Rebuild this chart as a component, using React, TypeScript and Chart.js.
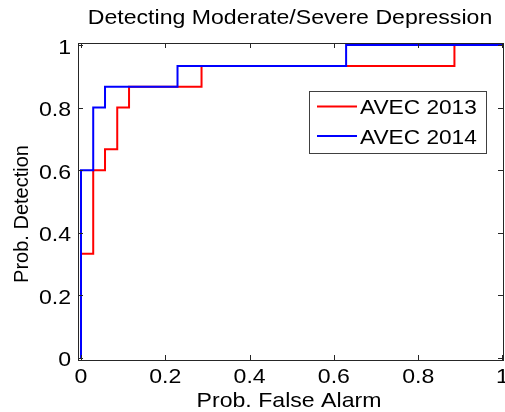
import React, { useEffect, useRef } from "react";
import { Chart, registerables } from "chart.js";

Chart.register(...registerables);

const titleText = "Detecting Moderate/Severe Depression";
const xLabel = "Prob. False Alarm";
const yLabel = "Prob. Detection";

const seriesNames = ["AVEC 2013", "AVEC 2014"];
const seriesColors = ["#ff0000", "#0000ff"];

// AVEC 2013 ROC staircase (false alarm, detection)
const fa2013 = [0, 0, 0.029, 0.029, 0.057, 0.057, 0.086, 0.086, 0.114, 0.114, 0.286, 0.286, 0.886, 0.886, 1];
const pd2013 = [0, 0.333, 0.333, 0.6, 0.6, 0.667, 0.667, 0.8, 0.8, 0.867, 0.867, 0.933, 0.933, 1, 1];

// AVEC 2014 ROC staircase
const fa2014 = [0, 0, 0.029, 0.029, 0.057, 0.057, 0.229, 0.229, 0.629, 0.629, 1];
const pd2014 = [0, 0.6, 0.6, 0.8, 0.8, 0.867, 0.867, 0.933, 0.933, 1, 1];

const xTicks = [0, 0.2, 0.4, 0.6, 0.8, 1];
const yTicks = [0, 0.2, 0.4, 0.6, 0.8, 1];
const xTickLabels = ["0", "0.2", "0.4", "0.6", "0.8", "1"];
const yTickLabels = ["0", "0.2", "0.4", "0.6", "0.8", "1"];

const FAMILY = '"Liberation Sans", Arial, sans-serif';
const STRETCH = 1.1;

function drawText(
  ctx: CanvasRenderingContext2D,
  text: string,
  x: number,
  y: number,
  align: CanvasTextAlign,
  sx: number,
  size = 21
) {
  ctx.save();
  ctx.translate(x, y);
  ctx.scale(sx, 1);
  ctx.font = `${size}px ${FAMILY}`;
  ctx.fillStyle = "#000";
  ctx.textAlign = align;
  ctx.textBaseline = "alphabetic";
  ctx.fillText(text, 0, 0);
  ctx.restore();
}

const matlabPlugin = {
  id: "matlabDecor",
  afterDatasetsDraw(chart: any) {
    const ctx: CanvasRenderingContext2D = chart.ctx;
    const xs = chart.scales.x;
    const ys = chart.scales.y;
    const L = 78, R = 503, T = 43, B = 360;

    ctx.save();
    // box
    ctx.strokeStyle = "#262626";
    ctx.lineWidth = 1;
    ctx.strokeRect(L + 0.5, T + 0.5, R - L, B - T);

    // ticks (inside, all four sides)
    ctx.beginPath();
    xTicks.forEach((t) => {
      const px = Math.round(xs.getPixelForValue(t)) + 0.5;
      ctx.moveTo(px, B);
      ctx.lineTo(px, B - 5);
      ctx.moveTo(px, T + 1);
      ctx.lineTo(px, T + 5);
    });
    yTicks.forEach((t) => {
      const py = Math.round(ys.getPixelForValue(t)) + 0.5;
      ctx.moveTo(L + 1, py);
      ctx.lineTo(L + 5, py);
      ctx.moveTo(R, py);
      ctx.lineTo(R - 5, py);
    });
    ctx.stroke();

    // tick labels
    xTicks.forEach((t, i) => {
      drawText(ctx, xTickLabels[i], xs.getPixelForValue(t), 383, "center", STRETCH);
    });
    yTicks.forEach((t, i) => {
      drawText(ctx, yTickLabels[i], 71, ys.getPixelForValue(t) + 8.5, "right", STRETCH);
    });

    // title and axis labels
    drawText(ctx, titleText, 290, 24, "center", STRETCH);
    drawText(ctx, xLabel, 289, 407, "center", STRETCH);
    ctx.save();
    ctx.translate(28, 214);
    ctx.rotate(-Math.PI / 2);
    drawText(ctx, yLabel, 0, 0, "center", 1, 20);
    ctx.restore();

    // legend
    const lx0 = 309, ly0 = 91, lx1 = 486, ly1 = 153;
    ctx.fillStyle = "#fff";
    ctx.fillRect(lx0, ly0, lx1 - lx0, ly1 - ly0);
    ctx.strokeStyle = "#404040";
    ctx.lineWidth = 1;
    ctx.strokeRect(lx0 + 0.5, ly0 + 0.5, lx1 - lx0, ly1 - ly0);
    const rows = [106.5, 136];
    chart.data.datasets.forEach((ds: any, i: number) => {
      const y = rows[i];
      ctx.strokeStyle = ds.borderColor;
      ctx.lineWidth = 2;
      ctx.beginPath();
      ctx.moveTo(317, y);
      ctx.lineTo(357, y);
      ctx.stroke();
      drawText(ctx, ds.label, 360, y + 7.5, "left", 1.08);
    });
    ctx.restore();
  },
};

export default function App() {
  const ref = useRef<HTMLCanvasElement | null>(null);

  useEffect(() => {
    if (!ref.current) return;
    const chart = new Chart(ref.current, {
      type: "scatter",
      data: {
        datasets: [
          {
            label: seriesNames[0],
            data: fa2013.map((x, i) => ({ x, y: pd2013[i] })),
            borderColor: seriesColors[0],
            backgroundColor: seriesColors[0],
            showLine: true,
            borderWidth: 2,
            pointRadius: 0,
            tension: 0,
            fill: false,
            order: 1,
          },
          {
            label: seriesNames[1],
            data: fa2014.map((x, i) => ({ x, y: pd2014[i] })),
            borderColor: seriesColors[1],
            backgroundColor: seriesColors[1],
            showLine: true,
            borderWidth: 2,
            pointRadius: 0,
            tension: 0,
            fill: false,
            order: 0,
          },
        ],
      },
      options: {
        animation: false,
        responsive: false,
        devicePixelRatio: 1,
        layout: { padding: { top: 43, right: 1, left: 0, bottom: 0 }, autoPadding: false } as any,
        plugins: {
          legend: { display: false },
          title: { display: false },
          tooltip: { enabled: false },
        },
        scales: {
          x: {
            type: "linear",
            min: -0.0071,
            max: 1.0036,
            ticks: { display: false },
            grid: { display: false },
            border: { display: false },
            afterFit: (s: any) => {
              s.height = 51;
            },
          },
          y: {
            type: "linear",
            min: -0.0096,
            max: 1.0064,
            ticks: { display: false },
            grid: { display: false },
            border: { display: false },
            afterFit: (s: any) => {
              s.width = 78;
            },
          },
        },
      },
      plugins: [matlabPlugin],
    });
    return () => chart.destroy();
  }, []);

  return (
    <div style={{ position: "absolute", left: 0, top: 0, width: 505, height: 412, background: "#fff" }}>
      <canvas ref={ref} width={505} height={412} />
    </div>
  );
}
